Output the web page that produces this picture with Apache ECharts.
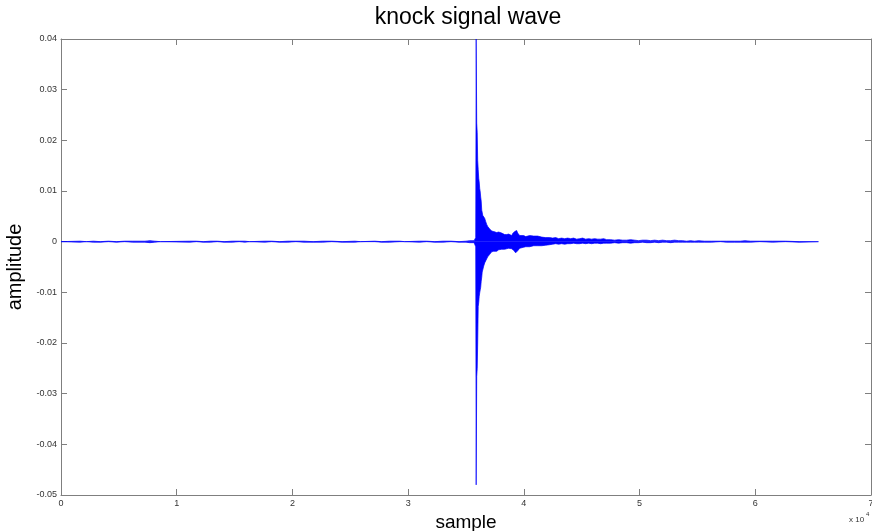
<!DOCTYPE html>
<html>
<head>
<meta charset="utf-8">
<title>knock signal wave</title>
<script src="https://cdn.jsdelivr.net/npm/echarts@6/dist/echarts.min.js"></script>
<style>
  html, body { margin: 0; padding: 0; background: #ffffff; }
  #chart { width: 872px; height: 531px; }
</style>
</head>
<body>
<div id="chart"></div>
<script>
// Knock sensor record: envelope of the signal, one entry per sample position.
// waveSample = sample index, waveHigh / waveLow = upper / lower excursion there.
const waveSample = [
  0, 1640, 2200, 2800, 3400, 4100, 4800, 5500, 6200, 7250, 7690, 8100, 8600,
  11140, 11700, 12300, 12900, 13500, 14100, 14800, 15400, 15890, 16300,
  17620, 18200, 18900, 19600, 20300, 21000, 21800, 22600, 23400, 24300, 25390, 25900,
  27120, 27700, 28400, 29280, 29700,
  31000, 31600, 32300, 33000, 33700, 34400, 35000, 35320, 35700,
  35840, 35880, 35925, 35970, 36010, 36055, 36100, 36140, 36185, 36230, 36270, 36315,
  36360, 36400, 36445, 36530, 36615, 36700, 36790, 36875, 36960, 37050, 37135, 37220,
  37305, 37395, 37480, 37565, 37650, 37740, 37825, 37910, 37995, 38085, 38170, 38255,
  38340, 38430, 38515, 38600, 38690, 38775, 38860, 38945, 39035, 39120, 39205, 39290,
  39380, 39465, 39550, 39640,
  39810, 39985, 40160, 40330, 40505, 40675, 40850, 41020, 41195, 41365, 41540, 41710,
  41885, 42055, 42230,
  42490, 42750, 43005, 43265, 43525, 43785, 44045, 44300, 44560, 44820, 45080, 45340,
  45600, 45855, 46115, 46375, 46635, 46895, 47150,
  47500, 47845, 48190, 48535, 48880, 49225, 49570, 49915, 50260, 50605, 50950, 51300,
  51645, 51990, 52335, 52680, 53025, 53370, 53715, 54060, 54405, 54750, 55100,
  55600, 56200, 57000, 57500, 58200, 58700, 59100, 59600, 60400, 61500, 62600, 63800, 65460
];
const waveHigh = [
  0, 0.0001, 0, 0.0001, 0, 0.0001, 0, 0.0001, 0.0001, 0.0001, 0.0002, 0.0001, 0,
  0.0001, 0.0001, 0, 0.0001, 0.0001, 0, 0.0001, 0.0001, 0.0001, 0,
  0.0001, 0.0001, 0, 0.0001, 0.0001, 0.0001, 0, 0.0001, 0.0001, 0, 0.0001, 0,
  0.0001, 0, 0.0001, 0.0001, 0,
  0.0001, 0.0001, 0, 0.0001, 0.0001, 0, 0.0001, 0.0002, 0.0002,
  0.0008, 0.0400, 0.0234, 0.0215, 0.0160, 0.0142, 0.0125, 0.0118, 0.0105, 0.0098, 0.0088, 0.0080,
  0.0062, 0.0058, 0.0052, 0.0049, 0.0046, 0.0040, 0.0034, 0.0030, 0.0027, 0.0025, 0.0023, 0.0021,
  0.0023, 0.0020, 0.0019, 0.0021, 0.0018, 0.0017, 0.0019, 0.0018, 0.0016, 0.0017, 0.0015, 0.0016,
  0.0014, 0.0015, 0.0014, 0.0013, 0.0015, 0.0013, 0.0014, 0.0012, 0.0016, 0.0018, 0.0020, 0.0022,
  0.0022, 0.0017, 0.0014, 0.0012,
  0.0011, 0.0012, 0.0010, 0.0011, 0.0012, 0.0010, 0.0011, 0.0009, 0.0011, 0.0010, 0.0009, 0.0010,
  0.0008, 0.0009, 0.0008,
  0.0007, 0.0008, 0.0006, 0.0007, 0.0006, 0.0007, 0.0006, 0.0007, 0.0005, 0.0006, 0.0007, 0.0005,
  0.0006, 0.0005, 0.0006, 0.0005, 0.0005, 0.0006, 0.0004,
  0.0004, 0.0003, 0.0004, 0.0003, 0.0003, 0.0004, 0.0003, 0.0002, 0.0003, 0.0003, 0.0002, 0.0003,
  0.0002, 0.0003, 0.0002, 0.0002, 0.0003, 0.0002, 0.0002, 0.0001, 0.0002, 0.0001, 0.0002,
  0.0001, 0.0001, 0.0001, 0.0001, 0.0001, 0.0001, 0.0002, 0.0001, 0.0001, 0.0001, 0.0001, 0, 0
];
const waveLow = [
  0, -0.0001, 0, -0.0001, -0.0001, 0, -0.0001, 0, -0.0001, -0.0001, -0.0002, -0.0001, 0,
  -0.0001, 0, -0.0001, -0.0001, 0, -0.0001, -0.0001, 0, -0.0001, 0,
  -0.0001, 0, -0.0001, -0.0001, 0, -0.0001, -0.0001, -0.0001, 0, -0.0001, -0.0001, 0,
  0, -0.0001, -0.0001, 0, 0,
  -0.0001, 0, -0.0001, -0.0001, 0, -0.0001, -0.0001, -0.0002, -0.0002,
  -0.0010, -0.0480, -0.0266, -0.0250, -0.0200, -0.0128, -0.0120, -0.0108, -0.0101, -0.0095, -0.0090, -0.0078,
  -0.0070, -0.0060, -0.0056, -0.0048, -0.0042, -0.0038, -0.0036, -0.0030, -0.0027, -0.0025, -0.0023, -0.0020,
  -0.0021, -0.0019, -0.0020, -0.0018, -0.0019, -0.0017, -0.0016, -0.0017, -0.0018, -0.0015, -0.0016, -0.0014,
  -0.0015, -0.0013, -0.0014, -0.0012, -0.0013, -0.0012, -0.0013, -0.0014, -0.0015, -0.0017, -0.0020, -0.0022,
  -0.0023, -0.0018, -0.0015, -0.0013,
  -0.0010, -0.0011, -0.0010, -0.0009, -0.0010, -0.0009, -0.0008, -0.0009, -0.0008, -0.0007, -0.0008, -0.0007,
  -0.0007, -0.0006, -0.0006,
  -0.0005, -0.0004, -0.0005, -0.0004, -0.0005, -0.0004, -0.0004, -0.0003, -0.0004, -0.0004, -0.0003, -0.0004,
  -0.0003, -0.0004, -0.0003, -0.0003, -0.0004, -0.0003, -0.0003,
  -0.0003, -0.0002, -0.0003, -0.0002, -0.0002, -0.0003, -0.0002, -0.0002, -0.0001, -0.0002, -0.0002, -0.0001,
  -0.0002, -0.0001, -0.0001, -0.0002, -0.0001, -0.0001, -0.0001, -0.0001, -0.0001, -0.0001, -0.0001,
  -0.0001, -0.0001, 0, -0.0001, -0.0001, -0.0001, -0.0001, -0.0001, 0, -0.0001, 0, -0.0001, 0
];

// Axis ranges and tick steps
const xMin = 0, xMax = 70000, xStep = 10000;
const yMin = -0.05, yMax = 0.04, yStep = 0.01;

const upperTrace = waveSample.map((s, i) => [s, waveHigh[i]]);
const lowerTrace = waveSample.map((s, i) => [s, waveLow[i]]);

const axisGrey = '#7f7f7f';
const traceBlue = '#0000ff';
const fontFamily = 'Liberation Sans, Arial, sans-serif';
const labelFont = { fontFamily: fontFamily, fontSize: 9, color: '#333333' };

function xAxisDef(pos, withLabels) {
  return {
    type: 'value', position: pos, min: xMin, max: xMax, interval: xStep,
    axisLine: { show: true, onZero: false, lineStyle: { color: axisGrey, width: 1 } },
    axisTick: { show: true, inside: true, length: 6, lineStyle: { color: axisGrey } },
    axisLabel: Object.assign({ show: withLabels, margin: 4, hideOverlap: false,
      showMinLabel: true, showMaxLabel: true, formatter: v => String(v / 10000) }, labelFont),
    splitLine: { show: false }
  };
}
function yAxisDef(pos, withLabels) {
  return {
    type: 'value', position: pos, min: yMin, max: yMax, interval: yStep,
    axisLine: { show: true, onZero: false, lineStyle: { color: axisGrey, width: 1 } },
    axisTick: { show: true, inside: true, length: 6, lineStyle: { color: axisGrey } },
    axisLabel: Object.assign({ show: withLabels, margin: 4,
      formatter: v => { const r = Math.round(v * 100) / 100; return r === 0 ? '0' : r.toFixed(2); } }, labelFont),
    splitLine: { show: false }
  };
}

// Each half of the envelope is filled towards the zero line; the fills overlap
// a hair across zero so the band stays solid there.
function traceSeries(points, fillOrigin) {
  return {
    type: 'line', xAxisIndex: 0, yAxisIndex: 0,
    data: points, showSymbol: false, symbol: 'none', sampling: null, clip: true,
    lineStyle: { color: traceBlue, width: 0.7 },
    areaStyle: { color: traceBlue, opacity: 1, origin: fillOrigin }
  };
}

const chart = echarts.init(document.getElementById('chart'), null, { renderer: 'canvas' });
const xBottom = xAxisDef('bottom', true);
xBottom.name = 'sample';
xBottom.nameLocation = 'middle';
xBottom.nameGap = 16;
xBottom.nameTextStyle = { fontFamily: fontFamily, fontSize: 19, color: '#000000' };
const yLeft = yAxisDef('left', true);
yLeft.name = 'amplitude';
yLeft.nameLocation = 'middle';
yLeft.nameRotate = 90;
yLeft.nameGap = 29;
yLeft.nameTextStyle = { fontFamily: fontFamily, fontSize: 20, color: '#000000' };

chart.setOption({
  backgroundColor: '#ffffff',
  animation: false,
  title: {
    text: 'knock signal wave', left: 463, textAlign: 'center', top: 1,
    textStyle: { fontFamily: fontFamily, fontSize: 23, fontWeight: 'normal', color: '#000000' }
  },
  grid: { left: 61, right: 1, top: 39, bottom: 36, containLabel: false, outerBoundsMode: 'none' },
  xAxis: [xBottom, xAxisDef('top', false)],
  yAxis: [yLeft, yAxisDef('right', false)],
  graphic: [
    { type: 'text', left: 849, top: 516, style: { text: 'x 10', fontFamily: fontFamily, fontSize: 8, fill: '#333333' } },
    { type: 'text', left: 866, top: 511, style: { text: '4', fontFamily: fontFamily, fontSize: 6, fill: '#333333' } }
  ],
  series: [traceSeries(upperTrace, -0.00004), traceSeries(lowerTrace, 0.00004)]
});
</script>
</body>
</html>
